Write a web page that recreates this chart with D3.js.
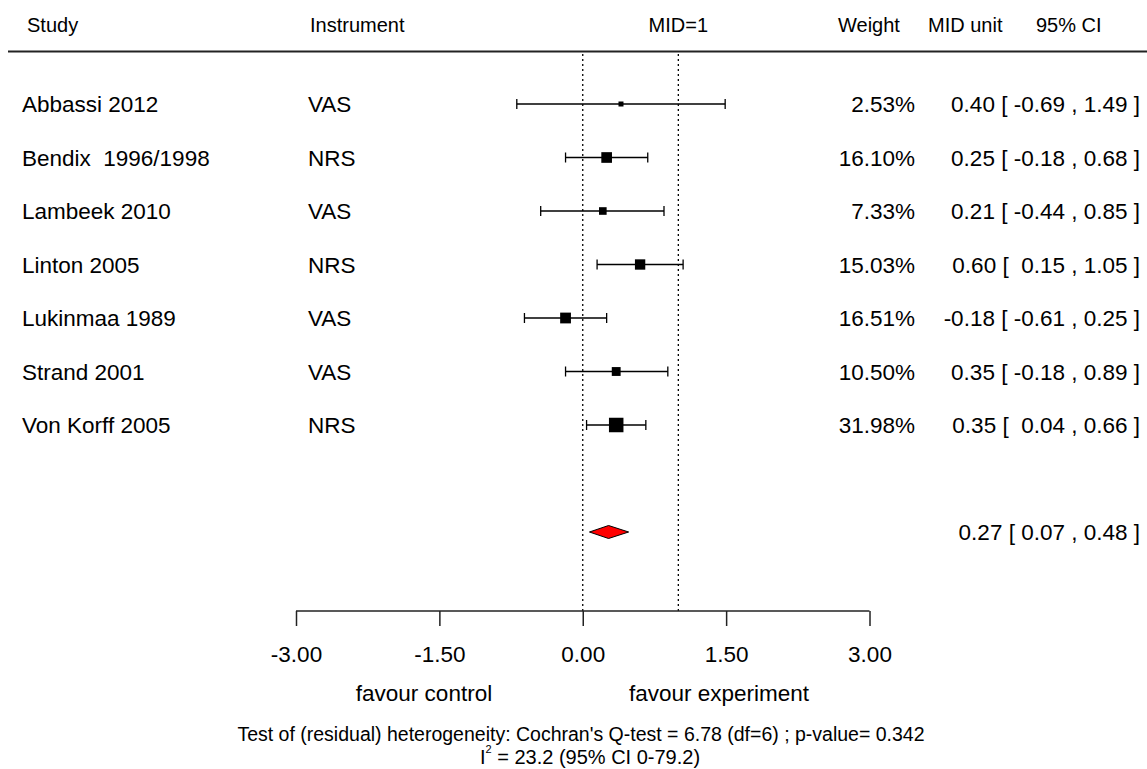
<!DOCTYPE html>
<html>
<head>
<meta charset="utf-8">
<script src="https://cdn.jsdelivr.net/npm/d3@7"></script>
<style>
  html, body { margin: 0; padding: 0; background: #fff; }
  svg { display: block; font-family: "Liberation Sans", Arial, sans-serif; }
  text { white-space: pre; }
</style>
</head>
<body>
<svg id="chart" width="1147" height="769"></svg>
<script>
// Study-level results (standardised to MID units)
const studies     = ["Abbassi 2012", "Bendix  1996/1998", "Lambeek 2010", "Linton 2005", "Lukinmaa 1989", "Strand 2001", "Von Korff 2005"];
const instruments = ["VAS", "NRS", "VAS", "NRS", "VAS", "VAS", "NRS"];
const weights     = [2.53, 16.10, 7.33, 15.03, 16.51, 10.50, 31.98];
const estimates   = [0.40, 0.25, 0.21, 0.60, -0.18, 0.35, 0.35];
const lowerCI     = [-0.69, -0.18, -0.44, 0.15, -0.61, -0.18, 0.04];
const upperCI     = [1.49, 0.68, 0.85, 1.05, 0.25, 0.89, 0.66];

// Pooled random-effects estimate
const pooled = { est: 0.27, lo: 0.07, hi: 0.48 };

// Axis
const axisTicks = [-3.00, -1.50, 0.00, 1.50, 3.00];
const refLines  = [0, 1];

const headers = { study: "Study", instrument: "Instrument", mid: "MID=1", weight: "Weight", unit: "MID unit", ci: "95% CI" };
const sideLabels = ["favour control", "favour experiment"];
const hetLine = "Test of (residual) heterogeneity: Cochran's Q-test = 6.78 (df=6) ; p-value= 0.342";
const i2Text = " = 23.2 (95% CI 0-79.2)";

// Plain hyphen-minus, two decimals
const fmt = v => v.toFixed(2);
const svg = d3.select("#chart");

const x = d3.scaleLinear().domain([-3, 3]).range([296, 869.5]);
const y = d3.scaleLinear().domain([1, 7]).range([104, 425]);
const boxSize = d3.scaleSqrt().domain(d3.extent(weights)).range([5, 14.5]);

const rows = studies.map((s, i) => ({
  study: s, instrument: instruments[i], w: weights[i],
  est: estimates[i], lo: lowerCI[i], hi: upperCI[i], row: i + 1
}));
const summaryRow = 9;
const axisY = 611;

// Header
const hdr = svg.append("g").attr("font-size", 20).attr("fill", "#000");
hdr.append("text").attr("x", 27).attr("y", 32).text(headers.study);
hdr.append("text").attr("x", 310).attr("y", 32).text(headers.instrument);
hdr.append("text").attr("x", x(1)).attr("y", 32).attr("text-anchor", "middle").text(headers.mid);
hdr.append("text").attr("x", 838).attr("y", 32).text(headers.weight);
hdr.append("text").attr("x", 928).attr("y", 32).text(headers.unit);
hdr.append("text").attr("x", 1036).attr("y", 32).text(headers.ci);

svg.append("line")
  .attr("x1", 8).attr("x2", 1147).attr("y1", 51.5).attr("y2", 51.5)
  .attr("stroke", "#222").attr("stroke-width", 2);

// Reference lines (null effect and MID = 1)
svg.selectAll("line.ref").data(refLines).join("line")
  .attr("class", "ref")
  .attr("x1", d => x(d)).attr("x2", d => x(d))
  .attr("y1", 54).attr("y2", axisY)
  .attr("stroke", "#000").attr("stroke-width", 1.3)
  .attr("stroke-dasharray", "2,3");

// Study rows
const g = svg.append("g");
const row = g.selectAll("g.row").data(rows).join("g").attr("class", "row");

row.append("text").attr("x", 22).attr("y", d => y(d.row)).attr("dy", "0.36em")
  .attr("font-size", 22.5).text(d => d.study);
row.append("text").attr("x", 308).attr("y", d => y(d.row)).attr("dy", "0.36em")
  .attr("font-size", 22.5).text(d => d.instrument);
row.append("text").attr("x", 915).attr("y", d => y(d.row)).attr("dy", "0.36em")
  .attr("text-anchor", "end").attr("font-size", 22.5).text(d => fmt(d.w) + "%");
row.append("text").attr("x", 1140).attr("y", d => y(d.row)).attr("dy", "0.36em")
  .attr("text-anchor", "end").attr("font-size", 22.5)
  .text(d => `${fmt(d.est)} [ ${d.lo < 0 ? fmt(d.lo) : " " + fmt(d.lo)} , ${fmt(d.hi)} ]`);

// Whiskers with end caps
row.append("line")
  .attr("x1", d => x(d.lo)).attr("x2", d => x(d.hi))
  .attr("y1", d => y(d.row)).attr("y2", d => y(d.row))
  .attr("stroke", "#000").attr("stroke-width", 1.3);
row.append("line")
  .attr("x1", d => x(d.lo)).attr("x2", d => x(d.lo))
  .attr("y1", d => y(d.row) - 5).attr("y2", d => y(d.row) + 5)
  .attr("stroke", "#000").attr("stroke-width", 1.3);
row.append("line")
  .attr("x1", d => x(d.hi)).attr("x2", d => x(d.hi))
  .attr("y1", d => y(d.row) - 5).attr("y2", d => y(d.row) + 5)
  .attr("stroke", "#000").attr("stroke-width", 1.3);

// Weighted point estimates
row.append("rect")
  .attr("x", d => x(d.est) - boxSize(d.w) / 2)
  .attr("y", d => y(d.row) - boxSize(d.w) / 2)
  .attr("width", d => boxSize(d.w)).attr("height", d => boxSize(d.w))
  .attr("fill", "#000");

// Pooled diamond
const sy = y(summaryRow);
svg.append("polygon")
  .attr("points", [
    [x(pooled.lo), sy], [x(pooled.est), sy - 6.5], [x(pooled.hi), sy], [x(pooled.est), sy + 6.5]
  ].map(p => p.join(",")).join(" "))
  .attr("fill", "#ff0000").attr("stroke", "#000").attr("stroke-width", 1);

svg.append("text").attr("x", 1140).attr("y", sy).attr("dy", "0.36em")
  .attr("text-anchor", "end").attr("font-size", 22.5)
  .text(`${fmt(pooled.est)} [ ${fmt(pooled.lo)} , ${fmt(pooled.hi)} ]`);

// Bottom axis
const axis = d3.axisBottom(x).tickValues(axisTicks).tickFormat(fmt).tickSize(15).tickSizeOuter(0).tickPadding(20);
const ax = svg.append("g").attr("transform", `translate(0,${axisY})`).call(axis);
ax.select(".domain").attr("stroke", "#222").attr("stroke-width", 1.5)
  .attr("d", `M${x(-3)},0H${x(3)}`);
ax.selectAll(".tick line").attr("stroke", "#222").attr("stroke-width", 1.5);
ax.selectAll(".tick text").attr("font-size", 22.5).attr("fill", "#000")
  .attr("font-family", "Liberation Sans, Arial, sans-serif");

// Direction labels
svg.append("text").attr("x", 424).attr("y", 693).attr("dy", "0.36em")
  .attr("text-anchor", "middle").attr("font-size", 22.5).text(sideLabels[0]);
svg.append("text").attr("x", 719).attr("y", 693).attr("dy", "0.36em")
  .attr("text-anchor", "middle").attr("font-size", 22.5).text(sideLabels[1]);

// Heterogeneity statistics
svg.append("text").attr("x", 581).attr("y", 734).attr("dy", "0.36em")
  .attr("text-anchor", "middle").attr("font-size", 19.5).text(hetLine);
const i2 = svg.append("text").attr("x", 590).attr("y", 757).attr("dy", "0.36em")
  .attr("text-anchor", "middle").attr("font-size", 20);
i2.append("tspan").text("I");
i2.append("tspan").attr("dy", -11).attr("font-size", 11).text("2");
i2.append("tspan").attr("dy", 11).text(i2Text);
</script>
</body>
</html>
